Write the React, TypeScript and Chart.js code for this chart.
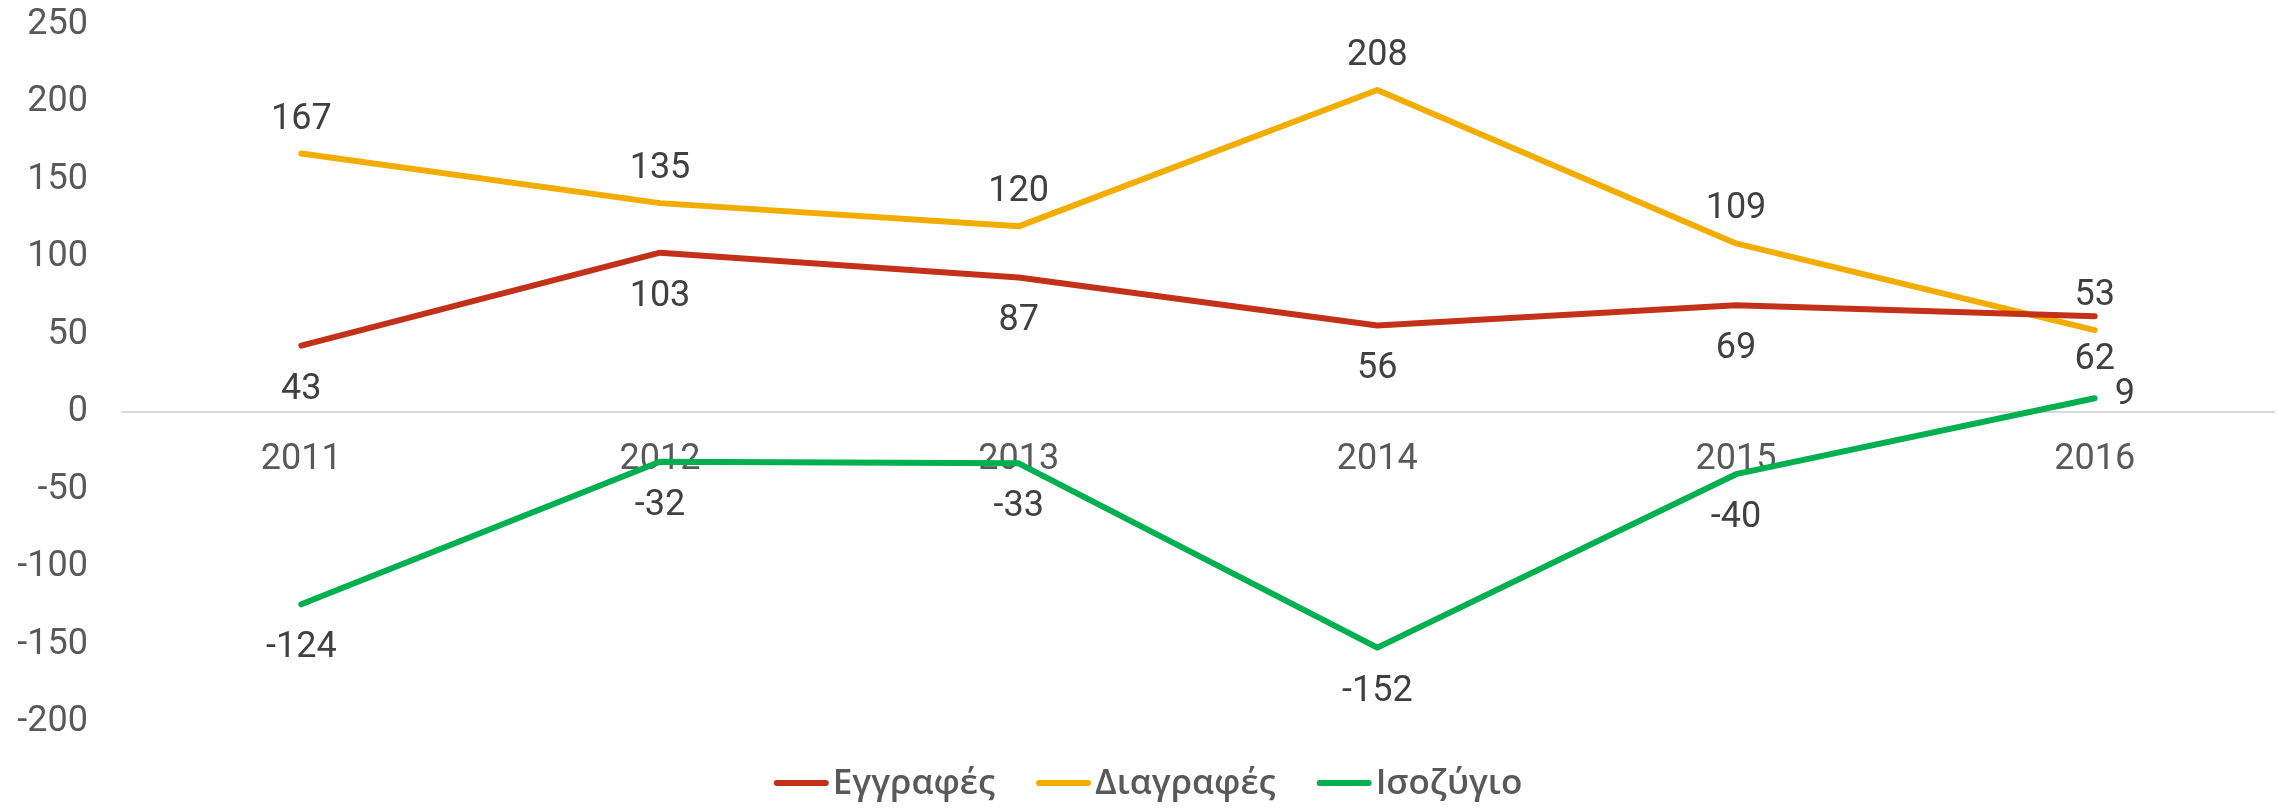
import React, { useEffect, useRef } from "react";
import { Chart, registerables } from "chart.js";

Chart.register(...registerables);

const years = ["2011", "2012", "2013", "2014", "2015", "2016"];
const registrations = [43, 103, 87, 56, 69, 62];
const deletions = [167, 135, 120, 208, 109, 53];
const balance = [-124, -32, -33, -152, -40, 9];
const seriesNames = ["Εγγραφές", "Διαγραφές", "Ισοζύγιο"];
const seriesColors = ["#C4311B", "#F2AD00", "#00B050"];
// label placement per series: 'below' | 'above'; last point of balance goes right
const labelPlacement = ["below", "above", "below"];

const dataLabelPlugin = {
  id: "dataLabelsCustom",
  afterDatasetsDraw(chart: any) {
    const ctx = chart.ctx;
    ctx.save();
    ctx.font = "36px Roboto";
    ctx.fillStyle = "#404040";
    ctx.textBaseline = "middle";
    chart.data.datasets.forEach((ds: any, di: number) => {
      const meta = chart.getDatasetMeta(di);
      meta.data.forEach((pt: any, i: number) => {
        const v = ds.data[i];
        const text = String(v);
        let x = pt.x;
        let y = pt.y;
        ctx.textAlign = "center";
        if (di === 2 && i === ds.data.length - 1) {
          ctx.textAlign = "left";
          x += 20;
          y -= 3;
        } else if (labelPlacement[di] === "above") {
          y -= 34;
        } else {
          y += 44;
        }
        ctx.fillText(text, x, y);
      });
    });
    ctx.restore();
  },
};

const legendPlugin = {
  id: "customLegend",
  afterDraw(chart: any) {
    const ctx = chart.ctx;
    ctx.save();
    ctx.font = "600 35px 'Open Sans'";
    ctx.textBaseline = "middle";
    ctx.textAlign = "left";
    const lineW = 55;
    const gapLT = 4;
    const itemGap = 41;
    const names = chart.data.datasets.map((d: any) => d.label);
    const widths = names.map((n: string) => ctx.measureText(n).width);
    const total =
      widths.reduce((a: number, w: number) => a + lineW + gapLT + w, 0) + itemGap * (names.length - 1);
    let x = chart.width / 2 + 9 - total / 2;
    const y = 783;
    names.forEach((n: string, i: number) => {
      const color = chart.data.datasets[i].borderColor;
      ctx.strokeStyle = color;
      ctx.lineWidth = 6;
      ctx.lineCap = "round";
      ctx.beginPath();
      ctx.moveTo(x + 3, y);
      ctx.lineTo(x + lineW - 3, y);
      ctx.stroke();
      ctx.fillStyle = "#595959";
      ctx.fillText(n, x + lineW + gapLT, y + 1);
      x += lineW + gapLT + widths[i] + itemGap;
    });
    ctx.restore();
  },
};

export default function App() {
  const ref = useRef<HTMLCanvasElement | null>(null);
  useEffect(() => {
    document.body.style.margin = "0";
    const canvas = ref.current!;
    const datasets = [registrations, deletions, balance].map((d, i) => ({
      label: seriesNames[i],
      data: d,
      borderColor: seriesColors[i],
      backgroundColor: seriesColors[i],
      borderWidth: 6,
      pointRadius: 0,
      pointHoverRadius: 0,
      tension: 0,
      borderCapStyle: "round" as const,
      borderJoinStyle: "round" as const,
    }));
    const chart = new Chart(canvas, {
      type: "line",
      data: { labels: years, datasets },
      options: {
        animation: false,
        responsive: false,
        devicePixelRatio: 1,
        layout: { padding: { top: 25, right: 4, left: 0, bottom: 86 } },
        scales: {
          x: {
            position: { y: 0 } as any,
            offset: true,
            grid: { display: false, drawTicks: false },
            border: { display: true, color: "#D9D9D9", width: 2 },
            ticks: {
              color: "#595959",
              font: { family: "Roboto", size: 36 },
              padding: 26,
              maxRotation: 0,
            },
          },
          y: {
            min: -200,
            max: 250,
            grid: { display: false, drawTicks: false },
            border: { display: false },
            ticks: {
              stepSize: 50,
              color: "#595959",
              font: { family: "Roboto", size: 36 },
              padding: 34,
            },
            afterFit: (s: any) => {
              s.width = 122;
              s.paddingTop = 20;
              s.paddingBottom = 20;
            },
          },
        },
        plugins: {
          tooltip: { enabled: false },
          legend: { display: false },
        },
      },
      plugins: [dataLabelPlugin, legendPlugin],
    });
    return () => chart.destroy();
  }, []);
  return (
    <div style={{ width: 2278, height: 808, position: "relative" }}>
      <canvas ref={ref} width={2278} height={808} />
    </div>
  );
}
